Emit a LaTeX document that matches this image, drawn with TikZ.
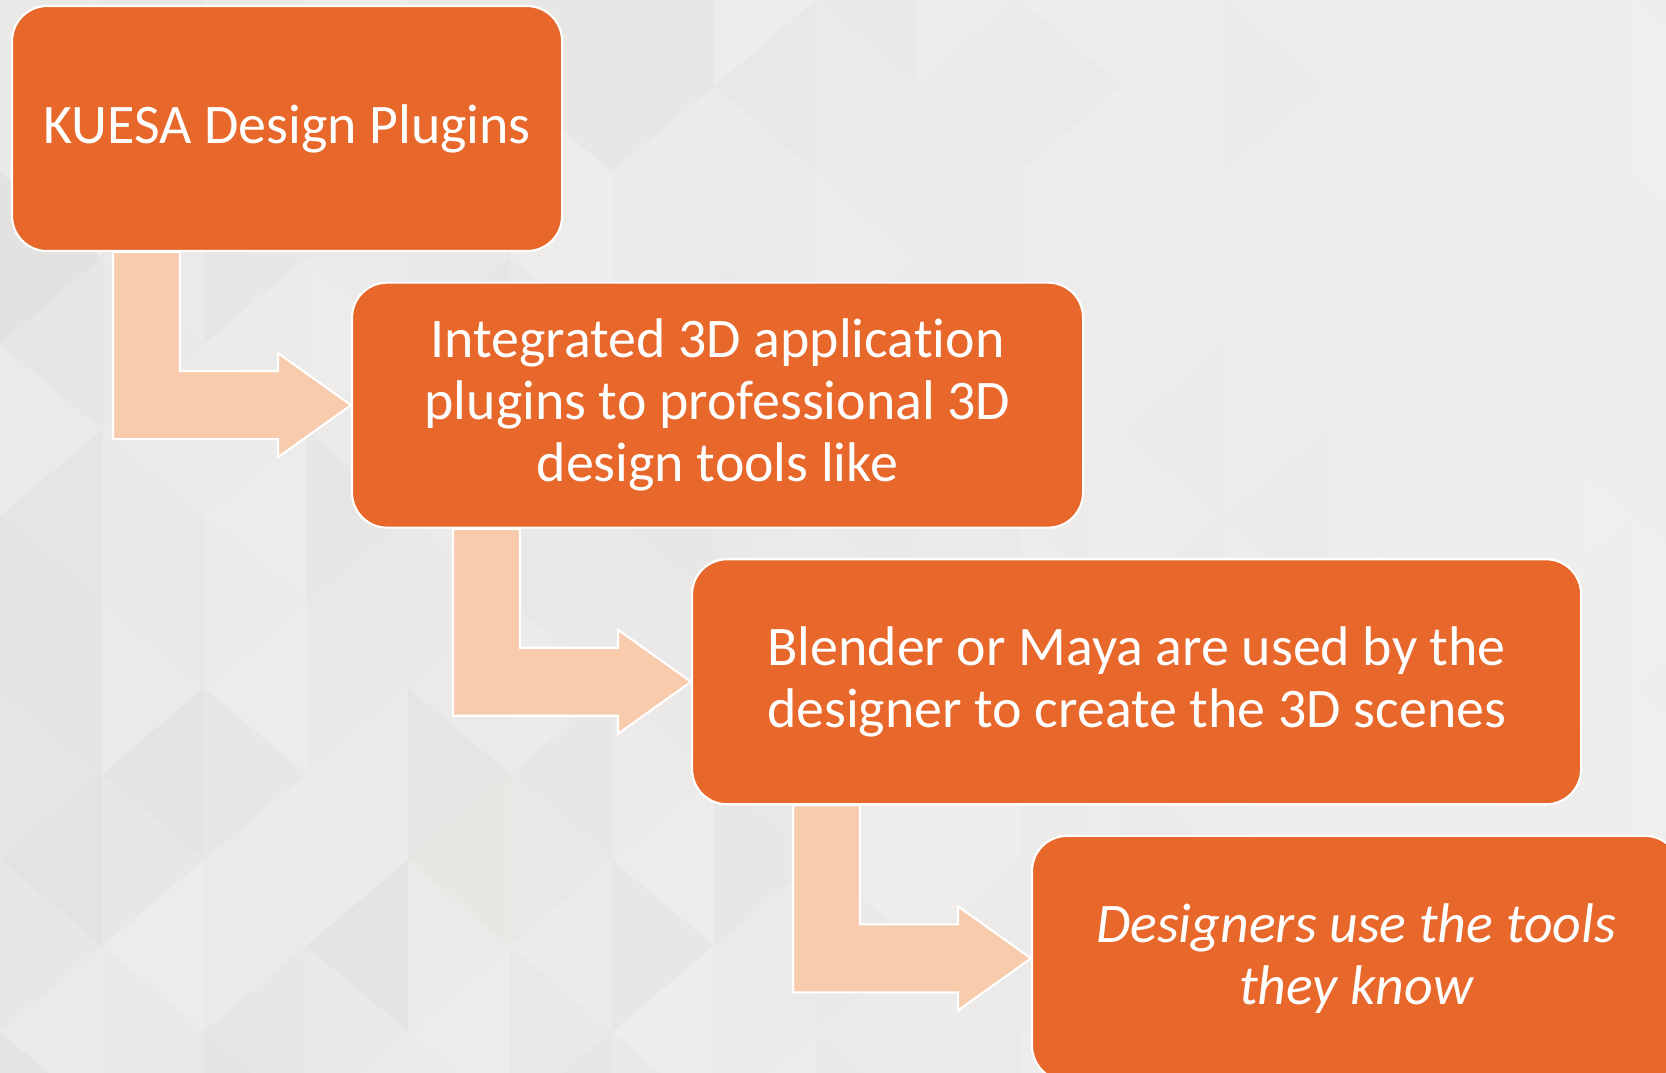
\documentclass[tikz,border=0pt]{standalone}
\usepackage{fontspec}
\setmainfont{Carlito}[Ligatures=NoCommon]
\usetikzlibrary{calc}

\definecolor{stepOrange}{HTML}{E8672B}
\definecolor{arrowPeach}{HTML}{F8CBAD}
\definecolor{bgLeft}{HTML}{E6E5E3}
\definecolor{bgRight}{HTML}{F0EFED}

% bent arrow from under one box to the west side of the next
\newcommand{\bentarrow}[2]{%
    \filldraw[arrowBody] let \p1 = ([xshift=2.04cm]#1.south west), \p2 = (#2.west) in
        (\x1,\y1) -- (\x1+1.34cm,\y1) -- (\x1+1.34cm,\y2+0.68cm) -- (\x2-1.46cm,\y2+0.68cm)
        -- (\x2-1.46cm,\y2+1.04cm) -- (\x2,\y2) -- (\x2-1.46cm,\y2-1.04cm)
        -- (\x2-1.46cm,\y2-0.68cm) -- (\x1,\y2-0.68cm) -- cycle;
}

\begin{document}
\begin{tikzpicture}[
    stepBox/.style={
        draw=white, line width=1.2pt, fill=stepOrange,
        rounded corners=0.7cm,
        minimum height=4.9cm,
        text=white, align=center,
        font=\fontsize{31.8}{35.3}\selectfont
        },
    arrowBody/.style={draw=white, line width=1.2pt, fill=arrowPeach},
    boxGap/.style={xshift=6.8cm, yshift=-0.59cm}
        ]
    \clip (0,0) rectangle (33.32,-21.46);
    \shade[left color=bgLeft, right color=bgRight] (0,0) rectangle (33.32,-21.46);

    % faint triangle mosaic in the background
    \pgfmathsetseed{42}
    \foreach \col in {0,...,16} {
        \foreach \k in {0,...,13} {
            \pgfmathsetmacro{\pct}{(0.5+5*rnd)*max(0.1,1-\col/17)}
            \pgfmathtruncatemacro{\apexSide}{mod(\col+\k,2)}
            \fill[black!\pct!bgRight, opacity=0.8]
                ({(\col+\apexSide)*2.04}, {-\k*1.72})
                -- ({(\col+1-\apexSide)*2.04}, {-(\k-1)*1.72})
                -- ({(\col+1-\apexSide)*2.04}, {-(\k+1)*1.72}) -- cycle;
        }
    }

    \node[stepBox, minimum width=11cm, anchor=north west] (plugins) at (0.22, -0.1) {KUESA Design Plugins};

    \node[stepBox, minimum width=14.62cm, anchor=north west, boxGap] (integrated) at (plugins.south west) {Integrated 3D application\\plugins to professional 3D\\design tools like};

    \node[stepBox, minimum width=17.78cm, anchor=north west, boxGap] (blender) at (integrated.south west) {Blender or Maya are used by the\\designer to create the 3D scenes};

    \node[stepBox, minimum width=12.96cm, anchor=north west, boxGap, font=\fontsize{31.8}{35.3}\selectfont\itshape] (designers) at (blender.south west) {Designers use the tools\\they know};

    \bentarrow{plugins}{integrated}
    \bentarrow{integrated}{blender}
    \bentarrow{blender}{designers}
\end{tikzpicture}
\end{document}
